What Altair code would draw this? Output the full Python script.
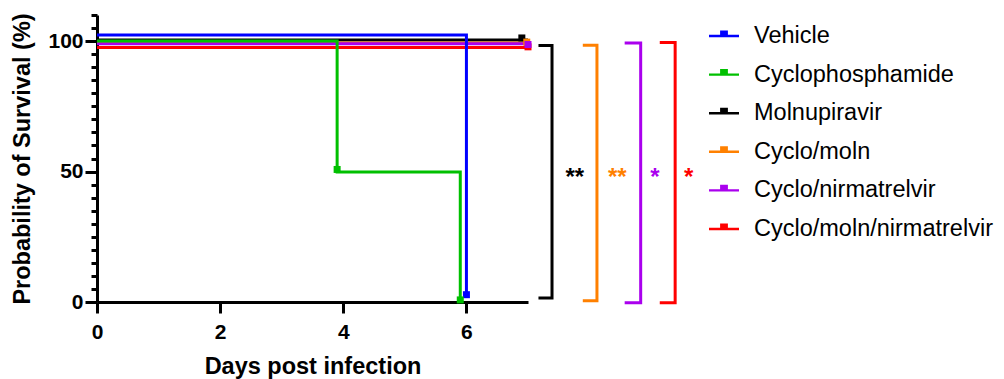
import altair as alt
import pandas as pd

# ---- groups and colours ----
groups = ["Vehicle", "Cyclophosphamide", "Molnupiravir", "Cyclo/moln",
          "Cyclo/nirmatrelvir", "Cyclo/moln/nirmatrelvir"]
colors = ["#0000FF", "#00C000", "#000000", "#FF8000", "#AA00EE", "#FF0000"]

# ---- Kaplan-Meier step curves (as drawn, with small vertical nudges) ----
vehicle_t = [0, 6.0]
vehicle_s = [102.3, 2.8]
cyclo_t = [0, 3.9, 5.9]
cyclo_s = [100.0, 49.8, 0.8]
moln_t = [0, 7.0]
moln_s = [100.4, 100.4]
cyclomoln_t = [0, 7.0]
cyclomoln_s = [99.3, 99.3]
cyclonirm_t = [0, 7.0]
cyclonirm_s = [99.0, 99.0]
triple_t = [0, 7.0]
triple_s = [97.5, 97.5]

# ---- symbols on the curves ----
marker_group = ["Vehicle", "Cyclophosphamide", "Cyclophosphamide", "Molnupiravir",
                "Cyclo/moln/nirmatrelvir", "Cyclo/moln", "Cyclo/nirmatrelvir"]
marker_t = [6.0, 3.9, 5.9, 6.9, 7.0, 6.98, 7.0]
marker_s = [2.8, 50.8, 0.8, 101.2, 97.8, 99.6, 98.7]

# ---- significance brackets (comparison vs. Cyclophosphamide) ----
bracket_group = ["Molnupiravir", "Cyclo/moln", "Cyclo/nirmatrelvir", "Cyclo/moln/nirmatrelvir"]
bracket_left = [7.17, 7.89, 8.57, 9.14]
bracket_right = [7.39, 8.12, 8.83, 9.39]
bracket_top = [98.3, 98.4, 99.3, 99.5]
bracket_bottom = [1.5, 0.5, -0.3, -0.3]
star_text = ["**", "**", "*", "*"]
star_t = [7.76, 8.45, 9.06, 9.61]
star_s = [44.8, 44.8, 44.8, 44.8]

FONT = "Liberation Sans"

curves = {
    "Vehicle": (vehicle_t, vehicle_s),
    "Cyclophosphamide": (cyclo_t, cyclo_s),
    "Molnupiravir": (moln_t, moln_s),
    "Cyclo/moln": (cyclomoln_t, cyclomoln_s),
    "Cyclo/nirmatrelvir": (cyclonirm_t, cyclonirm_s),
    "Cyclo/moln/nirmatrelvir": (triple_t, triple_s),
}
draw_order = ["Molnupiravir", "Cyclo/moln", "Cyclo/nirmatrelvir",
              "Cyclo/moln/nirmatrelvir", "Cyclophosphamide", "Vehicle"]

# legend scale (color) and a separate, legend-less scale for strokes / text fills
color_scale = alt.Scale(domain=groups, range=colors)
mark_scale = alt.Scale(domain=groups[::-1], range=colors[::-1])
xs = alt.Scale(domain=[0, 7], nice=False, zero=False)
ys = alt.Scale(domain=[0, 110], nice=False, zero=False)

x_axis = alt.Axis(values=[0, 2, 4, 6], tickSize=11, tickWidth=3, tickColor="black",
                  domainWidth=3, domainColor="black", labelFont=FONT, labelFontSize=21,
                  labelFontWeight="bold", labelColor="black", labelPadding=8,
                  labelFlush=False, grid=False, titleFont=FONT, titleFontSize=23.5,
                  titleFontWeight="bold", titleColor="black", titlePadding=12)
y_axis = alt.Axis(values=list(range(0, 115, 5)),
                  tickSize={"condition": {"test": "datum.value % 50 === 0", "value": 12}, "value": 6},
                  labelExpr="datum.value % 50 === 0 ? datum.label : ''",
                  tickWidth=3, tickColor="black", domainWidth=3, domainColor="black",
                  labelFont=FONT, labelFontSize=21, labelFontWeight="bold", labelColor="black",
                  labelPadding=2, labelFlush=False, grid=False, titleFont=FONT,
                  titleFontSize=23.5, titleFontWeight="bold", titleColor="black",
                  titlePadding=13)

X = alt.X("t:Q", scale=xs, axis=x_axis, title="Days post infection")
Y = alt.Y("s:Q", scale=ys, axis=y_axis, title="Probability of Survival (%)")

layers = []
for g in draw_order:
    tt, ss = curves[g]
    df = pd.DataFrame({"t": tt, "s": ss, "group": [g] * len(tt)})
    layers.append(
        alt.Chart(df).mark_line(interpolate="step-after", strokeWidth=3, strokeCap="butt")
        .encode(x=X, y=Y, stroke=alt.Stroke("group:N", scale=mark_scale, legend=None))
    )

# brackets
rows = []
for g, l, r, top, bot in zip(bracket_group, bracket_left, bracket_right, bracket_top, bracket_bottom):
    rows += [
        {"t": l, "s": top, "group": g, "k": 0},
        {"t": r, "s": top, "group": g, "k": 1},
        {"t": r, "s": bot, "group": g, "k": 2},
        {"t": l, "s": bot, "group": g, "k": 3},
    ]
bracket_df = pd.DataFrame(rows)
brackets = alt.Chart(bracket_df).mark_line(strokeWidth=3, strokeJoin="miter", strokeCap="butt").encode(
    x=X, y=Y, order="k:Q", detail="group:N",
    stroke=alt.Stroke("group:N", scale=mark_scale, legend=None))

star_df = pd.DataFrame({"t": star_t, "s": star_s, "group": bracket_group, "txt": star_text})
stars = alt.Chart(star_df).mark_text(font=FONT, fontSize=24, fontWeight="bold",
                                     align="center", baseline="alphabetic").encode(
    x=X, y=Y, text="txt:N",
    fill=alt.Fill("group:N", scale=mark_scale, legend=None))

legend_path = "M-1,-0.08H1V0.08H-1Z M-0.26,-0.08V-0.37H0.26V-0.08Z"
marker_df = pd.DataFrame({"t": marker_t, "s": marker_s, "group": marker_group})
markers = alt.Chart(marker_df).mark_square(size=49, filled=True, opacity=1).encode(
    x=X, y=Y,
    color=alt.Color("group:N", scale=color_scale,
                    legend=alt.Legend(title=None, orient="none", legendX=612, legendY=6,
                                      symbolType=legend_path, symbolSize=900,
                                      symbolStrokeWidth=0, symbolOpacity=1,
                                      labelFont=FONT, labelFontSize=23.5, labelColor="black",
                                      labelLimit=400, labelOffset=15, rowPadding=11.6,
                                      padding=0)))

chart = alt.layer(*layers, brackets, stars, markers).properties(
    width=431, height=287,
    background="white",
    autosize=alt.AutoSizeParams(type="none"),
    padding={"left": 89, "top": 7, "right": 468, "bottom": 77},
).resolve_scale(color="independent", stroke="shared", fill="shared").configure_view(stroke=None)

chart.save("out.html", embed_options={"renderer": "svg", "actions": False})
